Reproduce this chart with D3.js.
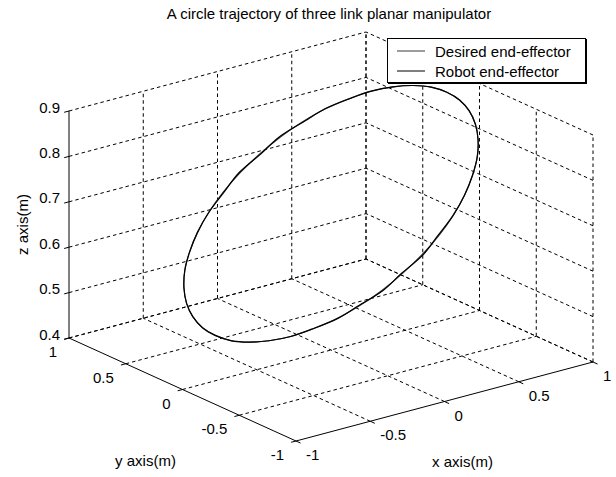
<!DOCTYPE html>
<html>
<head>
<meta charset="utf-8">
<script src="https://cdn.jsdelivr.net/npm/d3@7"></script>
<style>
  html, body { margin: 0; padding: 0; background: #fff; }
  svg { display: block; }
  text { font-family: "Liberation Sans", Arial, Helvetica, sans-serif; fill: #000; }
</style>
</head>
<body>
<svg id="chart" width="616" height="477"></svg>
<script>
// Axis ticks and labels
const xTicks = [-1, -0.5, 0, 0.5, 1];
const yTicks = [-1, -0.5, 0, 0.5, 1];
const zTicks = [0.4, 0.5, 0.6, 0.7, 0.8, 0.9];
const xTickLabels = ["-1", "-0.5", "0", "0.5", "1"];
const yTickLabels = ["-1", "-0.5", "0", "0.5", "1"];
const zTickLabels = ["0.4", "0.5", "0.6", "0.7", "0.8", "0.9"];

// Desired end-effector path (m)
const desiredX = [0.780, 0.770, 0.742, 0.695, 0.631, 0.552, 0.458, 0.354, 0.241, 0.122,
                  0.000, -0.122, -0.241, -0.354, -0.458, -0.552, -0.631, -0.695, -0.742, -0.770,
                  -0.780, -0.770, -0.742, -0.695, -0.631, -0.552, -0.458, -0.354, -0.241, -0.122,
                  0.000, 0.122, 0.241, 0.354, 0.458, 0.552, 0.631, 0.695, 0.742, 0.770];
const desiredY = [0.000, 0.125, 0.247, 0.363, 0.470, 0.566, 0.647, 0.713, 0.761, 0.790,
                  0.800, 0.790, 0.761, 0.713, 0.647, 0.566, 0.470, 0.363, 0.247, 0.125,
                  0.000, -0.125, -0.247, -0.363, -0.470, -0.566, -0.647, -0.713, -0.761, -0.790,
                  -0.800, -0.790, -0.761, -0.713, -0.647, -0.566, -0.470, -0.363, -0.247, -0.125];
const desiredZ = [0.900, 0.898, 0.890, 0.878, 0.862, 0.841, 0.818, 0.791, 0.762, 0.731,
                  0.700, 0.669, 0.638, 0.609, 0.582, 0.559, 0.538, 0.522, 0.510, 0.502,
                  0.500, 0.502, 0.510, 0.522, 0.538, 0.559, 0.582, 0.609, 0.638, 0.669,
                  0.700, 0.731, 0.762, 0.791, 0.818, 0.841, 0.862, 0.878, 0.890, 0.898];

// Robot end-effector path (m)
const robotX = [0.780, 0.770, 0.742, 0.695, 0.631, 0.562, 0.448, 0.366, 0.229, 0.132,
                -0.010, -0.114, -0.241, -0.354, -0.458, -0.552, -0.631, -0.695, -0.742, -0.770,
                -0.780, -0.770, -0.742, -0.695, -0.631, -0.562, -0.448, -0.366, -0.229, -0.132,
                0.010, 0.114, 0.241, 0.354, 0.458, 0.552, 0.631, 0.695, 0.742, 0.770];
const robotY = [0.000, 0.125, 0.247, 0.363, 0.470, 0.566, 0.647, 0.713, 0.761, 0.790,
                0.800, 0.790, 0.761, 0.713, 0.647, 0.566, 0.470, 0.363, 0.247, 0.125,
                0.000, -0.125, -0.247, -0.363, -0.470, -0.566, -0.647, -0.713, -0.761, -0.790,
                -0.800, -0.790, -0.761, -0.713, -0.647, -0.566, -0.470, -0.363, -0.247, -0.125];
const robotZ = [0.900, 0.898, 0.890, 0.878, 0.862, 0.841, 0.818, 0.791, 0.762, 0.731,
                0.700, 0.669, 0.638, 0.609, 0.582, 0.559, 0.538, 0.522, 0.510, 0.502,
                0.500, 0.502, 0.510, 0.522, 0.538, 0.559, 0.582, 0.609, 0.638, 0.669,
                0.700, 0.731, 0.762, 0.791, 0.818, 0.841, 0.862, 0.878, 0.890, 0.898];

const seriesNames = ["Desired end-effector", "Robot end-effector"];

const svg = d3.select("#chart");

// Data -> unit box
const xs = d3.scaleLinear().domain([-1, 1]).range([0, 1]);
const ys = d3.scaleLinear().domain([-1, 1]).range([0, 1]);
const zs = d3.scaleLinear().domain([0.4, 0.9]).range([0, 1]);

// Oblique view of the unit box: screen origin of (xmin, ymin, zmin) and edge vectors
const O = [296, 441];
const EX = [297, -79], EY = [-227, -103], EZ = [0, -227];
function proj(x, y, z) {
  const a = xs(x), b = ys(y), c = zs(z);
  return [O[0] + a * EX[0] + b * EY[0] + c * EZ[0],
          O[1] + a * EX[1] + b * EY[1] + c * EZ[1]];
}
const unit = v => { const l = Math.hypot(v[0], v[1]); return [v[0] / l, v[1] / l]; };
const [zmin, zmax] = zs.domain();

// ---- grid (dashed) ----
const grid = svg.append("g")
  .attr("stroke", "#000").attr("stroke-width", 1)
  .attr("stroke-dasharray", "3.5,3").attr("fill", "none");
const seg = (g, p, q) => g.append("line")
  .attr("x1", p[0]).attr("y1", p[1]).attr("x2", q[0]).attr("y2", q[1]);

// floor
xTicks.filter(v => v !== -1).forEach(x => seg(grid, proj(x, -1, zmin), proj(x, 1, zmin)));
yTicks.filter(v => v !== -1).forEach(y => seg(grid, proj(-1, y, zmin), proj(1, y, zmin)));
// back wall (y = 1)
xTicks.filter(v => v !== -1).forEach(x => seg(grid, proj(x, 1, zmin), proj(x, 1, zmax)));
zTicks.forEach(z => seg(grid, proj(-1, 1, z), proj(1, 1, z)));
// side wall (x = 1)
yTicks.forEach(y => seg(grid, proj(1, y, zmin), proj(1, y, zmax)));
zTicks.forEach(z => seg(grid, proj(1, -1, z), proj(1, 1, z)));

// ---- axes ----
const axes = svg.append("g").attr("stroke", "#000").attr("stroke-width", 1);
seg(axes, proj(-1, 1, zmin), proj(-1, 1, zmax));   // z axis
seg(axes, proj(-1, -1, zmin), proj(-1, 1, zmin));  // y axis
seg(axes, proj(-1, -1, zmin), proj(1, -1, zmin));  // x axis

const tickLen = 5;
const dirOutX = unit([-EX[0], -EX[1]]);   // ticks on y and z axes
const dirOutY = unit([-EY[0], -EY[1]]);   // ticks on x axis
const tick = (p, d) => seg(axes, p, [p[0] + d[0] * tickLen, p[1] + d[1] * tickLen]);

zTicks.forEach(z => tick(proj(-1, 1, z), dirOutX));
yTicks.forEach(y => tick(proj(-1, y, zmin), dirOutX));
xTicks.forEach(x => tick(proj(x, -1, zmin), dirOutY));

// ---- tick labels ----
const fs = 15;
const labels = svg.append("g").attr("font-size", fs);
zTicks.forEach((z, i) => {
  const p = proj(-1, 1, z);
  labels.append("text").attr("x", p[0] - 9).attr("y", p[1] + 1.5)
    .attr("text-anchor", "end").text(zTickLabels[i]);
});
yTicks.forEach((y, i) => {
  const p = proj(-1, y, zmin);
  labels.append("text").attr("x", p[0] - 12).attr("y", p[1] + 19)
    .attr("text-anchor", "end").text(yTickLabels[i]);
});
xTicks.forEach((x, i) => {
  const p = proj(x, -1, zmin);
  labels.append("text").attr("x", p[0] + 10).attr("y", p[1] + 19)
    .attr("text-anchor", "start").text(xTickLabels[i]);
});

// ---- axis titles ----
const xm = proj(0, -1, zmin), ym = proj(-1, 0, zmin), zm = proj(-1, 1, (zmin + zmax) / 2);
labels.append("text").attr("x", xm[0] + 18).attr("y", xm[1] + 65)
  .attr("text-anchor", "middle").text("x axis(m)");
labels.append("text").attr("x", ym[0] - 37).attr("y", ym[1] + 76)
  .attr("text-anchor", "middle").text("y axis(m)");
labels.append("text")
  .attr("transform", `translate(${zm[0] - 41},${zm[1]}) rotate(-90)`)
  .attr("text-anchor", "middle").text("z axis(m)");

// ---- title ----
svg.append("text").attr("x", 329).attr("y", 19).attr("font-size", fs)
  .attr("text-anchor", "middle")
  .text("A circle trajectory of three link planar manipulator");

// ---- trajectories ----
const line = d3.line().curve(d3.curveCatmullRomClosed);
const desiredPts = desiredX.map((x, i) => proj(x, desiredY[i], desiredZ[i]));
const robotPts = robotX.map((x, i) => proj(x, robotY[i], robotZ[i]));
const colors = ["#3a3a3a", "#000"];
svg.append("path").attr("d", line(desiredPts)).attr("fill", "none")
  .attr("stroke", colors[0]).attr("stroke-width", 1.2);
svg.append("path").attr("d", line(robotPts)).attr("fill", "none")
  .attr("stroke", colors[1]).attr("stroke-width", 1.2);

// ---- legend ----
const lg = svg.append("g");
lg.append("rect").attr("x", 387.5).attr("y", 38.5).attr("width", 198).attr("height", 44)
  .attr("fill", "#fff").attr("stroke", "#000").attr("stroke-width", 1);
lg.append("line").attr("x1", 586.5).attr("y1", 39).attr("x2", 586.5).attr("y2", 84)
  .attr("stroke", "#000");
lg.append("line").attr("x1", 388).attr("y1", 83.5).attr("x2", 587).attr("y2", 83.5)
  .attr("stroke", "#000");
seriesNames.forEach((name, i) => {
  const cy = 51 + i * 20;
  lg.append("line").attr("x1", 397).attr("x2", 425).attr("y1", cy).attr("y2", cy)
    .attr("stroke", colors[i]).attr("stroke-width", 1);
  lg.append("text").attr("x", 435).attr("y", cy + 5.5).attr("font-size", fs).text(name);
});
</script>
</body>
</html>
